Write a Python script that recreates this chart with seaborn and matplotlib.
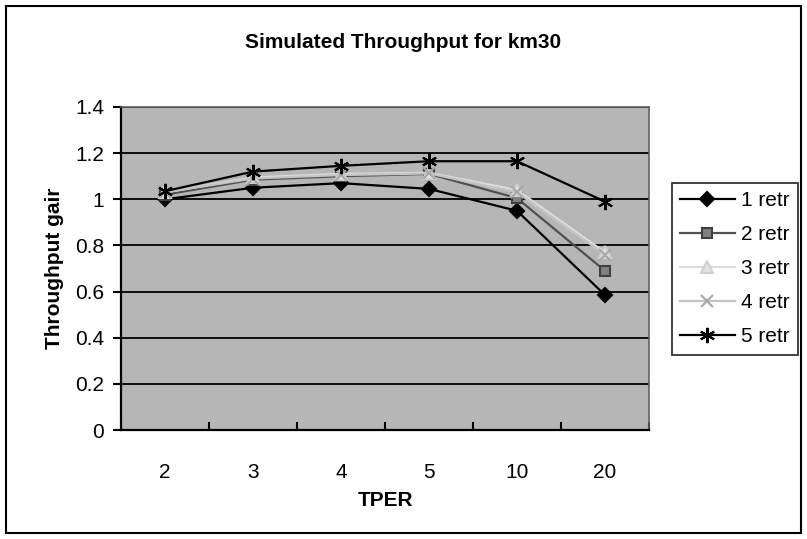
import matplotlib
matplotlib.use("Agg")
import matplotlib.pyplot as plt
from matplotlib.patches import Rectangle
import pandas as pd
import seaborn as sns

# --- Data --------------------------------------------------------------------
tper = ["2", "3", "4", "5", "10", "20"]
retr_1 = [1.00, 1.05, 1.07, 1.045, 0.95, 0.585]
retr_2 = [1.02, 1.085, 1.10, 1.11, 1.005, 0.69]
retr_3 = [1.03, 1.095, 1.11, 1.115, 1.04, 0.77]
retr_4 = [1.03, 1.09, 1.105, 1.112, 1.03, 0.76]
retr_5 = [1.035, 1.12, 1.145, 1.165, 1.165, 0.99]
series_names = ["1 retr", "2 retr", "3 retr", "4 retr", "5 retr"]
y_ticks = [0, 0.2, 0.4, 0.6, 0.8, 1, 1.2, 1.4]

df = pd.DataFrame({"TPER": tper * 5,
                   "gain": retr_1 + retr_2 + retr_3 + retr_4 + retr_5,
                   "series": [s for s in series_names for _ in tper]})

# --- Styles ------------------------------------------------------------------
styles = {
    "1 retr": dict(color="black", marker="D", mfc="black", mec="black", ms=7, lw=1.6),
    "2 retr": dict(color="#505050", marker="s", mfc="#808080", mec="#404040", ms=7, lw=1.6),
    "3 retr": dict(color="#dcdcdc", marker="^", mfc="#e4e4e4", mec="#d0d0d0", ms=9, lw=1.6),
    "4 retr": dict(color="#c4c4c4", marker="x", mfc="#a8a8a8", mec="#a8a8a8", ms=9, lw=1.6),
    "5 retr": dict(color="black", marker=(6, 2, 0), mfc="black", mec="black", ms=11, lw=1.6),
}

plt.rcParams["font.family"] = ["Liberation Sans", "DejaVu Sans"]
fig = plt.figure(figsize=(8.07, 5.39), dpi=100)
ax = fig.add_axes([121 / 807, 1 - 430 / 539, 528 / 807, 323 / 539])
ax.set_facecolor("#b6b6b6")

for name in series_names:
    st = styles[name]
    sns.lineplot(data=df[df["series"] == name], x="TPER", y="gain", ax=ax,
                 color=st["color"], linewidth=st["lw"], marker=st["marker"],
                 markersize=st["ms"], markerfacecolor=st["mfc"],
                 markeredgecolor=st["mec"], markeredgewidth=1.5,
                 label=name, sort=False, legend=False)

ax.set_xlim(-0.5, 5.5)
ax.set_ylim(0, 1.4)
ax.set_yticks(y_ticks)
ax.set_yticklabels(["0", "0.2", "0.4", "0.6", "0.8", "1", "1.2", "1.4"], fontsize=15)
ax.set_xticks(range(len(tper)))
ax.set_xticklabels(tper, fontsize=15)
ax.set_xticks([i - 0.5 for i in range(len(tper) + 1)], minor=True)
ax.tick_params(axis="x", which="major", length=0, pad=24)
ax.tick_params(axis="x", which="minor", length=6, width=1.5, direction="in")
ax.tick_params(axis="y", length=6, width=1.5, direction="out", pad=6)
ax.yaxis.grid(True, color="black", linewidth=1.3)
ax.set_axisbelow(True)
for side in ["top", "right"]:
    ax.spines[side].set_linewidth(1.2)
    ax.spines[side].set_color("#606060")
for side in ["left", "bottom"]:
    ax.spines[side].set_linewidth(1.6)

ax.set_xlabel("TPER", fontsize=15, fontweight="bold", labelpad=6)
ax.set_ylabel("Throughput gair", fontsize=15, fontweight="bold", labelpad=8)
fig.text(0.5, 1 - 42 / 539, "Simulated Throughput for km30", ha="center",
         va="center", fontsize=15, fontweight="bold")

handles, labels = ax.get_legend_handles_labels()
leg = fig.legend(handles, labels, loc="upper left",
                 bbox_to_anchor=(672 / 807, 1 - 183 / 539), fontsize=15,
                 frameon=True, fancybox=False, edgecolor="black",
                 handlelength=2.6, handletextpad=0.3, labelspacing=0.72,
                 borderpad=0.4, borderaxespad=0)
leg.get_frame().set_linewidth(1.3)

fig.patches.append(Rectangle((6 / 807, 6 / 539), 795 / 807, 527 / 539,
                             transform=fig.transFigure, fill=False,
                             edgecolor="black", linewidth=1.5))

fig.savefig("out.png", dpi=100)
